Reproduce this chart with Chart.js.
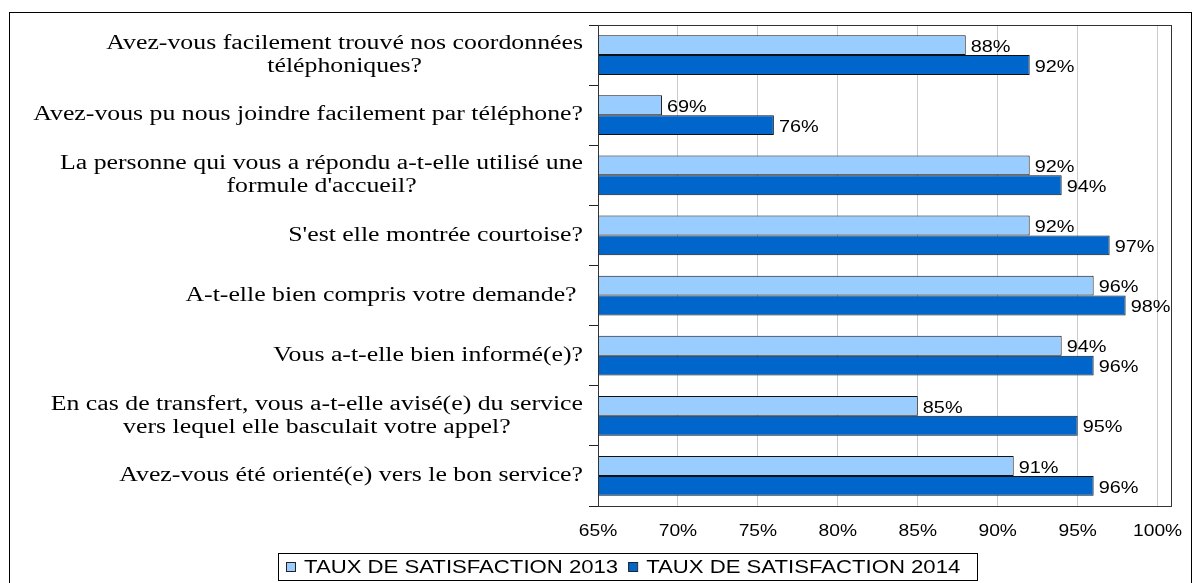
<!DOCTYPE html>
<html lang="fr">
  <head>
    <meta charset="UTF-8" />
    <title>Taux de satisfaction</title>
    <style>
      html, body { margin: 0; padding: 0; background: #fff; }
      #wrap { width: 1192px; height: 583px; }
    </style>
  </head>
  <body>
    <div id="wrap"><canvas id="myChart" width="1192" height="583"></canvas></div>
    <script src="https://cdn.jsdelivr.net/npm/chart.js"></script>
    <script>
      // questions (one array per line of the label)
      const questions = [
        ["Avez-vous facilement trouvé nos coordonnées", "téléphoniques?"],
        ["Avez-vous pu nous joindre facilement par téléphone?"],
        ["La personne qui vous a répondu a-t-elle utilisé une", "formule d'accueil?"],
        ["S'est elle montrée courtoise?"],
        ["A-t-elle bien compris votre demande? "],
        ["Vous a-t-elle bien informé(e)?"],
        ["En cas de transfert, vous a-t-elle avisé(e) du service", "vers lequel elle basculait votre appel?"],
        ["Avez-vous été orienté(e) vers le bon service?"],
      ];
      const sat2013 = [88, 69, 92, 92, 96, 94, 85, 91];
      const sat2014 = [92, 76, 94, 97, 98, 96, 95, 96];
      const seriesNames = ["TAUX DE SATISFACTION 2013", "TAUX DE SATISFACTION 2014"];
      const xTicks = [65, 70, 75, 80, 85, 90, 95, 100];

      const sansFont = "'Liberation Sans', Arial, sans-serif";
      const serifFont = "'Liberation Serif', 'Times New Roman', serif";

      // the original picture is a bit wider than tall, so text is stretched
      function wideText(ctx, text, x, y, sx, align) {
        const w = ctx.measureText(text).width * sx;
        let left = x;
        if (align === "center") left = x - w / 2;
        if (align === "right") left = x - w;
        ctx.save();
        ctx.translate(left, y);
        ctx.scale(sx, 1);
        ctx.textAlign = "left";
        ctx.fillText(text, 0, 0);
        ctx.restore();
        return w;
      }

      const extras = {
        id: "extras",
        afterDraw(chart) {
          const ctx = chart.ctx;
          const area = chart.chartArea;
          const y = chart.scales.y;
          const x = chart.scales.x;
          ctx.save();

          // plot frame
          ctx.strokeStyle = "#333";
          ctx.lineWidth = 1;
          ctx.strokeRect(Math.round(area.left) + 0.5, Math.round(area.top) + 0.5,
            Math.round(area.right - area.left) - 1, Math.round(area.bottom - area.top));

          ctx.fillStyle = "#000";
          ctx.textBaseline = "middle";

          // category labels: block right aligned, lines centred on each other
          ctx.font = "20px " + serifFont;
          const sxLab = 1.29;
          questions.forEach((lines, i) => {
            const cy = y.getPixelForValue(i);
            const w = Math.max(...lines.map((l) => ctx.measureText(l).width)) * sxLab;
            const cx = area.left - 15 - w / 2;
            lines.forEach((l, k) => {
              wideText(ctx, l, cx, cy + (k - (lines.length - 1) / 2) * 23, sxLab, "center");
            });
          });

          // x tick labels
          ctx.font = "16px " + sansFont;
          x.ticks.forEach((t) => {
            wideText(ctx, t.value + "%", x.getPixelForValue(t.value), 532, 1.2, "center");
          });

          // value labels
          ctx.font = "17px " + sansFont;
          chart.data.datasets.forEach((ds, di) => {
            chart.getDatasetMeta(di).data.forEach((bar, i) => {
              wideText(ctx, ds.data[i] + "%", bar.x + 5, bar.y + 2, 1.17, "left");
            });
          });

          // legend
          const lx = 278, ly = 553, lw = 699, lh = 27;
          ctx.strokeStyle = "#000";
          ctx.strokeRect(lx + 0.5, ly + 0.5, lw, lh);
          ctx.font = "18px " + sansFont;
          let px = lx + 8;
          chart.data.datasets.forEach((ds) => {
            ctx.fillStyle = ds.backgroundColor;
            ctx.fillRect(px, ly + 9, 9, 9);
            ctx.strokeStyle = "#222";
            ctx.strokeRect(px + 0.5, ly + 9.5, 9, 9);
            ctx.fillStyle = "#000";
            const w = wideText(ctx, ds.label, px + 18, ly + 15, 1.23, "left");
            px += 18 + w + 10;
          });

          // outer frame
          ctx.strokeStyle = "#000";
          ctx.strokeRect(9.5, 12.5, 1182, 600);
          ctx.restore();
        },
      };

      const config = {
        type: "bar",
        data: {
          labels: questions,
          datasets: [
            {
              label: seriesNames[0],
              data: sat2013,
              backgroundColor: "#99ccff",
              borderColor: "#111",
              borderWidth: 1,
              borderSkipped: false,
            },
            {
              label: seriesNames[1],
              data: sat2014,
              backgroundColor: "#0066cc",
              borderColor: "#111",
              borderWidth: 1,
              borderSkipped: false,
            },
          ],
        },
        options: {
          indexAxis: "y",
          responsive: false,
          animation: false,
          categoryPercentage: 0.66,
          barPercentage: 1.0,
          layout: { padding: { left: 0, top: 25, right: 20, bottom: 0 } },
          plugins: {
            legend: { display: false },
            tooltip: { enabled: false },
          },
          scales: {
            x: {
              min: 65,
              max: 100.9,
              afterFit: (scale) => { scale.height = 77; },
              afterBuildTicks: (scale) => {
                scale.ticks = xTicks.map((v) => ({ value: v }));
              },
              ticks: { display: false, includeBounds: false },
              grid: { color: "#cccccc", drawTicks: false },
              border: { display: false },
            },
            y: {
              afterFit: (scale) => { scale.width = 598; },
              ticks: { display: false },
              grid: {
                offset: true,
                drawOnChartArea: false,
                drawTicks: true,
                tickLength: 9,
                color: "#222",
              },
              border: { display: true, color: "#000" },
            },
          },
        },
        plugins: [extras],
      };

      const myChart = new Chart(document.getElementById("myChart"), config);
    </script>
  </body>
</html>
